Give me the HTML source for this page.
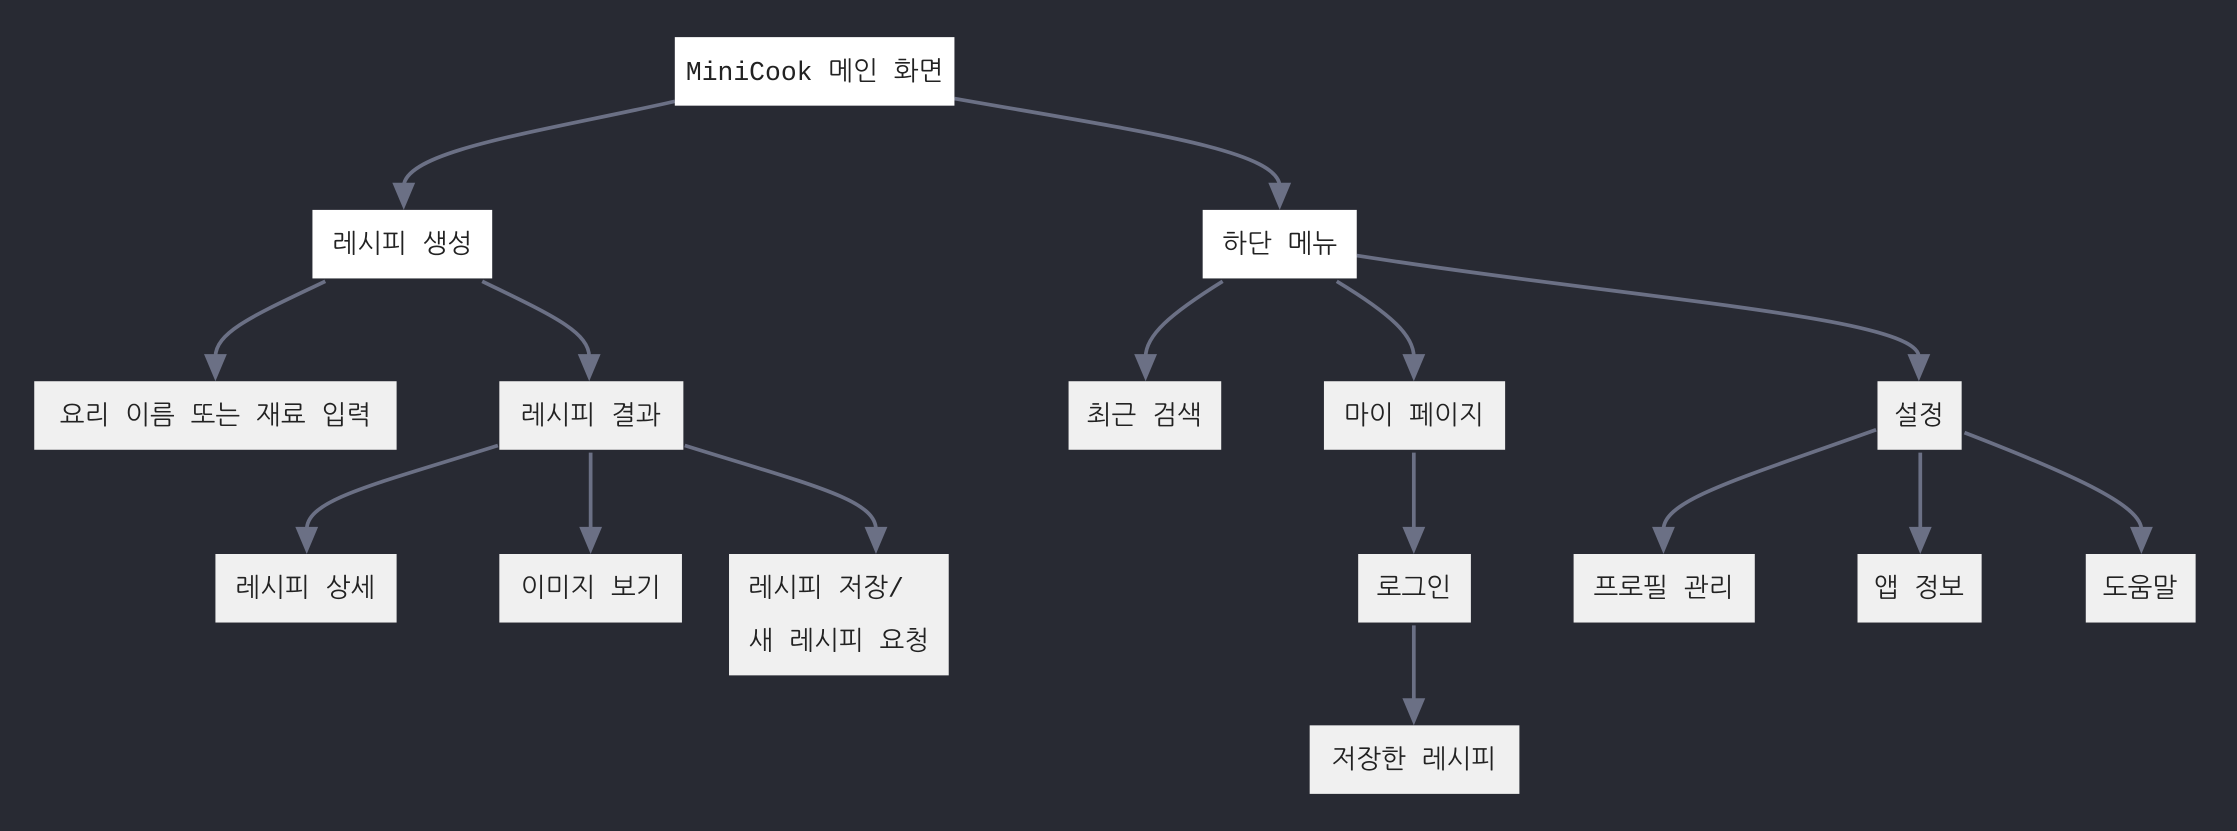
<!DOCTYPE html>
<html><head><meta charset="utf-8"><style>
html,body{margin:0;padding:0;background:#282a33;}
svg{display:block}
text{font-family:"Liberation Mono","NanumGothic","Noto Sans CJK KR",sans-serif;font-size:18.5px;fill:#222;text-anchor:middle;dominant-baseline:central;}
.e{fill:none;stroke:#6b7085;stroke-width:2.6}
.a{fill:#6b7085}
</style></head><body>
<svg width="2237" height="831" viewBox="0 0 1568 582" preserveAspectRatio="none">
<rect width="1568" height="582" fill="#282a33"/>
<g>
<path class="e" d="M473,71 C380,92 285,105 283,130"/><polygon class="a" points="275,128 291,128 283,147"/>
<path class="e" d="M669,69 C800,92 895,105 897,130"/><polygon class="a" points="889,128 905,128 897,147"/>
<path class="e" d="M228,197 C180,220 151,232 151,250"/><polygon class="a" points="143,248 159,248 151,267"/>
<path class="e" d="M338,197 C385,220 413,232 413,250"/><polygon class="a" points="405,248 421,248 413,267"/>
<path class="e" d="M349,312 C260,340 215,350 215,371"/><polygon class="a" points="207,369 223,369 215,388"/>
<path class="e" d="M414,317 L414,371"/><polygon class="a" points="406,369 422,369 414,388"/>
<path class="e" d="M480,312 C570,340 614,350 614,371"/><polygon class="a" points="606,369 622,369 614,388"/>
<path class="e" d="M857,197 C820,220 803,235 803,250"/><polygon class="a" points="795,248 811,248 803,267"/>
<path class="e" d="M937,197 C975,220 991,235 991,250"/><polygon class="a" points="983,248 999,248 991,267"/>
<path class="e" d="M951,179 C1150,210 1345,222 1345,250"/><polygon class="a" points="1337,248 1353,248 1345,267"/>
<path class="e" d="M1315,301 C1220,335 1166,350 1166,371"/><polygon class="a" points="1158,369 1174,369 1166,388"/>
<path class="e" d="M1346,317 L1346,371"/><polygon class="a" points="1338,369 1354,369 1346,388"/>
<path class="e" d="M1377,303 C1460,335 1501,355 1501,371"/><polygon class="a" points="1493,369 1509,369 1501,388"/>
<path class="e" d="M991,317 L991,371"/><polygon class="a" points="983,369 999,369 991,388"/>
<path class="e" d="M991,438 L991,491"/><polygon class="a" points="983,489 999,489 991,508"/>
</g>
<g>
<rect x="473" y="26" width="196" height="48" fill="#fff"/><text x="571" y="51">MiniCook 메인 화면</text>
<rect x="219" y="147" width="126" height="48" fill="#fff"/><text x="282" y="172">레시피 생성</text>
<rect x="843" y="147" width="108" height="48" fill="#fff"/><text x="897" y="172">하단 메뉴</text>
<g fill="#f0f0f0">
<rect x="24" y="267" width="254" height="48"/><rect x="350" y="267" width="129" height="48"/>
<rect x="749" y="267" width="107" height="48"/><rect x="928" y="267" width="127" height="48"/>
<rect x="1316" y="267" width="59" height="48"/>
<rect x="151" y="388" width="127" height="48"/><rect x="350" y="388" width="128" height="48"/>
<rect x="511" y="388" width="154" height="85"/><rect x="952" y="388" width="79" height="48"/>
<rect x="1103" y="388" width="127" height="48"/><rect x="1302" y="388" width="87" height="48"/>
<rect x="1462" y="388" width="77" height="48"/><rect x="918" y="508" width="147" height="48"/>
</g>
<text x="151" y="292">요리 이름 또는 재료 입력</text>
<text x="414" y="292">레시피 결과</text>
<text x="802" y="292">최근 검색</text>
<text x="991" y="292">마이 페이지</text>
<text x="1345" y="292">설정</text>
<text x="214" y="413">레시피 상세</text>
<text x="414" y="413">이미지 보기</text>
<text x="579" y="413">레시피 저장/</text>
<text x="588" y="450">새 레시피 요청</text>
<text x="991" y="413">로그인</text>
<text x="1166" y="413">프로필 관리</text>
<text x="1345" y="413">앱 정보</text>
<text x="1500" y="413">도움말</text>
<text x="991" y="533">저장한 레시피</text>
</g>
</svg>
</body></html>
